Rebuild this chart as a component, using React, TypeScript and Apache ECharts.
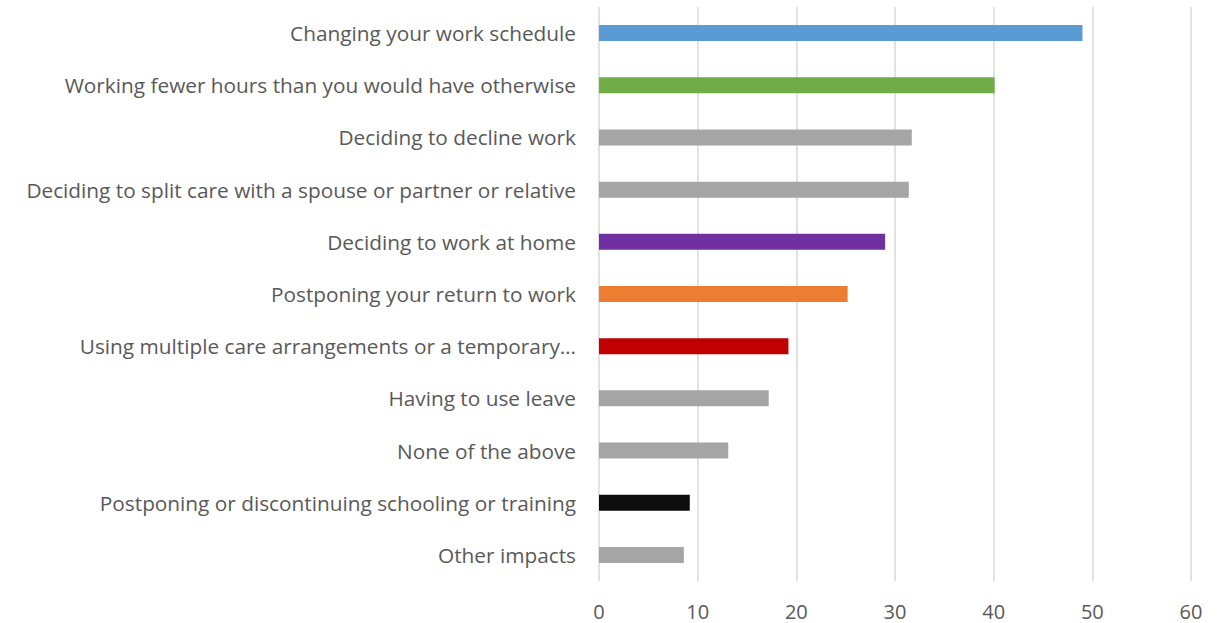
import React, { useEffect, useRef } from "react";
import * as echarts from "echarts";

const categories = [
  "Changing your work schedule",
  "Working fewer hours than you would have otherwise",
  "Deciding to decline work",
  "Deciding to split care with a spouse or partner or relative",
  "Deciding to work at home",
  "Postponing your return to work",
  "Using multiple care arrangements or a temporary…",
  "Having to use leave",
  "None of the above",
  "Postponing or discontinuing schooling or training",
  "Other impacts",
];
const values = [49.0, 40.1, 31.7, 31.4, 29.0, 25.2, 19.2, 17.2, 13.1, 9.2, 8.6];
const barColors = [
  "#5B9BD5",
  "#70AD47",
  "#A5A5A5",
  "#A5A5A5",
  "#7030A0",
  "#ED7D31",
  "#C00000",
  "#A5A5A5",
  "#A5A5A5",
  "#0D0D0D",
  "#A5A5A5",
];
const xTicks = { min: 0, max: 60, interval: 10 };

export default function App() {
  const ref = useRef<HTMLDivElement>(null);
  useEffect(() => {
    if (!ref.current) return;
    const chart = echarts.init(ref.current, null, { renderer: "svg" });
    const font = "'Open Sans', sans-serif";
    chart.setOption({
      animation: false,
      grid: { left: 599, right: 31, top: 7, bottom: 42, containLabel: false },
      xAxis: {
        type: "value",
        min: xTicks.min,
        max: xTicks.max,
        interval: xTicks.interval,
        axisLine: { show: false },
        axisTick: { show: false },
        splitLine: { show: true, lineStyle: { color: "#D9D9D9", width: 1.5 } },
        axisLabel: { color: "#595959", fontSize: 20, fontFamily: font, margin: 20 },
      },
      yAxis: {
        type: "category",
        inverse: true,
        data: categories,
        axisLine: { show: false },
        axisTick: { show: false },
        axisLabel: { color: "#595959", fontSize: 20.8, fontFamily: font, margin: 23 },
      },
      series: [
        {
          type: "bar",
          barWidth: 16,
          data: values.map((v, i) => ({ value: v, itemStyle: { color: barColors[i] } })),
        },
      ],
    });
    return () => chart.dispose();
  }, []);
  return (
    <div
      ref={ref}
      style={{ position: "fixed", left: 0, top: 0, width: 1222, height: 623, background: "#fff" }}
    />
  );
}
